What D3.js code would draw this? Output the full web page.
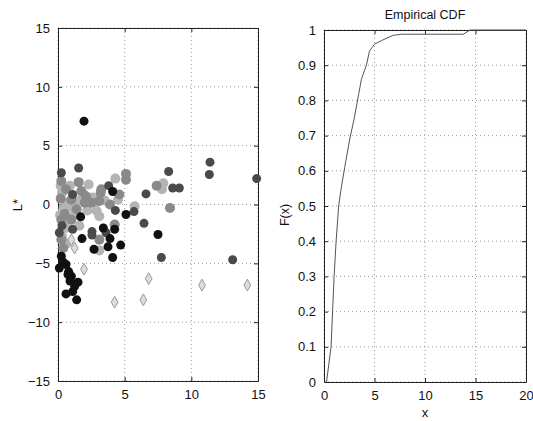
<!DOCTYPE html>
<html>
<head>
<meta charset="utf-8">
<script src="https://cdn.jsdelivr.net/npm/d3@7"></script>
<style>
  body { margin: 0; background: #fff; }
  text { font-family: "Liberation Sans", Arial, sans-serif; fill: #111; }
</style>
</head>
<body>
<svg id="chart" width="533" height="421"></svg>
<script>
// scatter groups, [x, L*]
const blackPts = [[1.95, 7.08], [5.1, -0.85], [7.5, -2.55], [4.7, -3.45], [4.1, -4.5], [3.75, -3.6],
  [3.9, -2.9], [3.4, -2.0], [2.7, -3.8], [1.8, -2.9], [1.7, -1.05], [4.1, 1.1], [0.25, -4.4],
  [0.1, -5.4], [0.6, -5.1], [0.8, -5.7], [1.0, -6.1], [0.75, -5.95], [1.5, -6.6], [1.25, -6.95],
  [0.6, -7.6], [1.4, -8.1], [1.1, -7.4], [0.9, -6.5], [0.4, -4.9], [4.25, -2.1]];
const darkPts = [[11.4, 3.6], [11.35, 2.55], [14.9, 2.2], [8.3, 2.8], [8.6, 1.4], [9.1, 1.4],
  [6.6, 0.9], [5.7, -0.6], [6.45, -1.6], [7.75, -4.5], [13.1, -4.7], [3.6, -2.4], [2.55, -2.3],
  [2.55, -2.6], [4.3, -0.5], [3.8, 1.6], [1.55, 3.1], [0.25, 2.7], [1.1, 0.85], [0.1, -2.4],
  [1.1, -2.1], [0.3, -1.8]];
const midPts = [[5.1, 2.6], [5.1, 2.1], [7.4, 1.6], [8.4, -0.3], [4.25, -1.7], [3.25, 1.3],
  [3.2, 1.0], [3.1, 0.3], [1.55, 1.9], [0.25, 2.0], [0.6, 1.3], [0.25, -1.3], [0.25, -3.0],
  [0.4, -3.7], [1.0, -1.3], [2.0, 0.15], [2.1, 0.7], [2.5, 0.15], [1.75, 1.15], [3.9, 0.0],
  [4.6, 0.85], [3.1, -3.0], [1.0, 0.4], [0.5, -0.8], [1.4, -0.4], [0.2, 0.5]];
const lightPts = [[4.3, 2.2], [7.9, 1.8], [7.8, 1.3], [5.75, -0.15], [3.1, -3.9], [2.9, -0.55],
  [3.1, -1.0], [2.3, 1.7], [0.6, 0.15], [0.4, -0.4], [3.5, 0.35], [4.5, 0.4], [0.3, 1.0],
  [0.8, -0.2], [1.3, 0.2], [0.15, -0.9], [0.6, -2.0], [0.3, -2.7], [1.6, -1.8], [2.2, -0.5],
  [0.9, 1.6], [1.9, 0.9], [0.2, 1.6], [0.7, -3.3], [1.2, -0.9], [2.6, 0.6], [0.5, -1.4],
  [1.7, 0.4], [2.8, 0.1]];
const diamondPts = [[1.95, -5.5], [6.8, -6.3], [6.4, -8.1], [10.8, -6.85], [14.2, -6.85],
  [4.25, -8.3], [1.0, -3.0], [1.25, -3.7]];

// empirical CDF
const cdfX = [0, 0.25, 0.7, 1.0, 1.2, 1.45, 1.7, 2.05, 2.55, 3.0, 3.45, 3.7, 4.2, 4.5, 5.0,
  5.7, 6.85, 7.7, 13.8, 14.45, 20];
const cdfF = [0, 0, 0.1, 0.3, 0.4, 0.5, 0.55, 0.61, 0.69, 0.75, 0.82, 0.86, 0.9, 0.94, 0.96,
  0.97, 0.985, 0.988, 0.988, 1.0, 1.0];

const leftXTicks = [0, 5, 10, 15];
const leftYTicks = [-15, -10, -5, 0, 5, 10, 15];
const rightXTicks = [0, 5, 10, 15, 20];
const rightYTicks = [0, 0.1, 0.2, 0.3, 0.4, 0.5, 0.6, 0.7, 0.8, 0.9, 1];

const svg = d3.select("#chart");

function panel(x0, x1, y0, y1, xDom, yDom, xTicks, yTicks) {
  const x = d3.scaleLinear().domain(xDom).range([x0, x1]);
  const y = d3.scaleLinear().domain(yDom).range([y1, y0]);
  const g = svg.append("g");

  // dotted grid
  g.selectAll(".gx").data(xTicks).enter().append("line")
    .attr("x1", d => x(d)).attr("x2", d => x(d)).attr("y1", y0).attr("y2", y1)
    .attr("stroke", "#999").attr("stroke-width", 1).attr("stroke-dasharray", "1,3");
  g.selectAll(".gy").data(yTicks).enter().append("line")
    .attr("x1", x0).attr("x2", x1).attr("y1", d => y(d)).attr("y2", d => y(d))
    .attr("stroke", "#999").attr("stroke-width", 1).attr("stroke-dasharray", "1,3");

  // axes, ticks inward
  g.append("g").attr("transform", `translate(0,${y1})`)
    .call(d3.axisBottom(x).tickValues(xTicks).tickSizeInner(-4).tickSizeOuter(0).tickPadding(9).tickFormat(d3.format("")));
  g.append("g").attr("transform", `translate(${x0},0)`)
    .call(d3.axisLeft(y).tickValues(yTicks).tickSizeInner(-4).tickSizeOuter(0).tickPadding(8).tickFormat(d3.format("")));
  g.append("g").attr("transform", `translate(0,${y0})`)
    .call(d3.axisTop(x).tickValues(xTicks).tickSizeInner(-4).tickSizeOuter(0).tickFormat(""));
  g.append("g").attr("transform", `translate(${x1},0)`)
    .call(d3.axisRight(y).tickValues(yTicks).tickSizeInner(-4).tickSizeOuter(0).tickFormat(""));
  g.selectAll(".domain").attr("stroke", "#222");
  g.selectAll(".tick line").attr("stroke", "#222");
  g.selectAll(".tick text").attr("font-size", 13).style("font-family", "'Liberation Sans', Arial, sans-serif").attr("fill", "#111");

  return { g, x, y };
}

// left scatter
const L = panel(58, 258, 28, 381, [0, 15], [-15, 15], leftXTicks, leftYTicks);
const groups = [
  { pts: lightPts, fill: "#b4b4b4", r: 5 },
  { pts: midPts, fill: "#8a8a8a", r: 5 },
  { pts: darkPts, fill: "#4a4a4a", r: 4.5 },
  { pts: blackPts, fill: "#111", r: 4.5 }
];
groups.forEach(gr => {
  L.g.append("g").selectAll("circle").data(gr.pts).enter().append("circle")
    .attr("cx", d => L.x(d[0])).attr("cy", d => L.y(d[1]))
    .attr("r", gr.r).attr("fill", gr.fill);
});
L.g.append("g").selectAll("path").data(diamondPts).enter().append("path")
  .attr("transform", d => `translate(${L.x(d[0])},${L.y(d[1])})`)
  .attr("d", d3.symbol().type(d3.symbolDiamond).size(40))
  .attr("fill", "#ddd").attr("stroke", "#999").attr("stroke-width", 1);

svg.append("text").attr("transform", "translate(22,205) rotate(-90)")
  .attr("text-anchor", "middle").attr("font-size", 13).text("L*");

// right ECDF
const R = panel(324, 526, 30, 382, [0, 20], [0, 1], rightXTicks, rightYTicks);
const cdf = cdfX.map((v, i) => [v, cdfF[i]]);
R.g.append("path").datum(cdf)
  .attr("d", d3.line().x(d => R.x(d[0])).y(d => R.y(d[1])))
  .attr("fill", "none").attr("stroke", "#555").attr("stroke-width", 1);

svg.append("text").attr("x", 425).attr("y", 19).attr("text-anchor", "middle")
  .attr("font-size", 12.5).text("Empirical CDF");
svg.append("text").attr("x", 425).attr("y", 417).attr("text-anchor", "middle")
  .attr("font-size", 13).text("x");
svg.append("text").attr("transform", "translate(289,215) rotate(-90)")
  .attr("text-anchor", "middle").attr("font-size", 12.5).text("F(x)");
</script>
</body>
</html>
